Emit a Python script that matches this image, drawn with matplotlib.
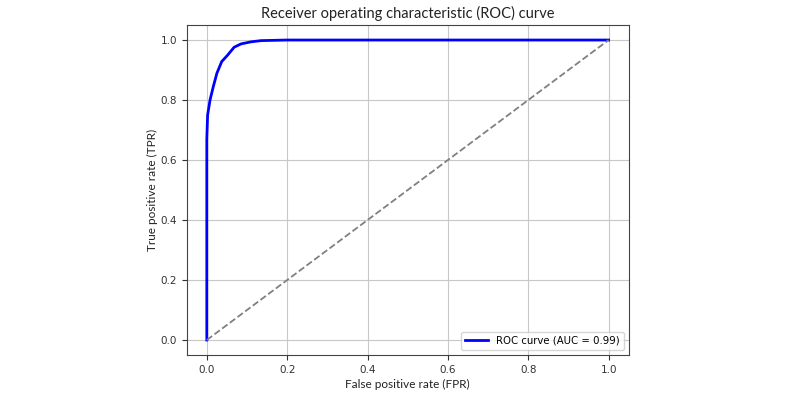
import matplotlib
matplotlib.use("Agg")
import matplotlib.pyplot as plt

fpr = [0.0, 0.0, 0.0, 0.002, 0.008, 0.016, 0.025, 0.037, 0.052, 0.068, 0.085, 0.11, 0.135, 0.2, 1.0]
tpr = [0.0, 0.5, 0.67, 0.75, 0.80, 0.844, 0.889, 0.928, 0.95, 0.976, 0.987, 0.994, 0.998, 1.0, 1.0]
diag = [0.0, 1.0]
auc_label = "ROC curve (AUC = 0.99)"
ticks = [0.0, 0.2, 0.4, 0.6, 0.8, 1.0]

fig = plt.figure(figsize=(8, 3.96), dpi=100)
ax = fig.add_axes([0.2334, 0.1035, 0.5525, 0.8333])
ax.plot(fpr, tpr, color="blue", lw=2, label=auc_label)
ax.plot(diag, diag, color="gray", lw=1.3, ls="--")
ax.set_xticks(ticks)
ax.set_yticks(ticks)
ax.tick_params(labelsize=7.5, colors="#333333")
ax.grid(True, color="#c8c8c8", lw=0.8)
ax.set_xlabel("False positive rate (FPR)", fontsize=8.5, color="#222222", family="Lato", labelpad=3)
ax.set_ylabel("True positive rate (TPR)", fontsize=8.5, color="#222222", family="Lato", labelpad=2)
ax.set_title("Receiver operating characteristic (ROC) curve", fontsize=10.5, color="#222222", family="Lato", pad=5)
for s in ax.spines.values():
    s.set_color("#444444")
ax.legend(loc="lower right", fontsize=7.3, handlelength=2.2, borderaxespad=0.5)
fig.savefig("out.png", dpi=100)
